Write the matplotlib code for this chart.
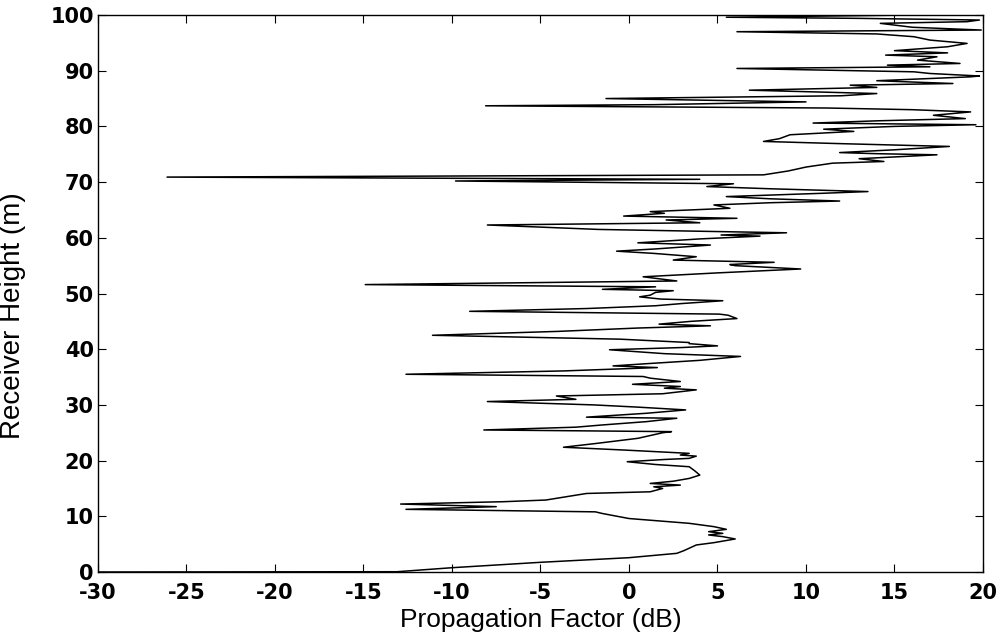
import matplotlib
matplotlib.use("Agg")
import matplotlib.pyplot as plt

# Receiver height (m) and propagation factor (dB), bottom to top
height_m = [
    0.0, 0.05, 0.77, 1.74, 2.57, 3.35, 3.83, 4.85, 5.27, 5.93,
    6.35, 6.65, 6.94, 7.24, 7.66, 8.14, 8.74, 9.34, 9.6, 10.5,
    10.8, 11.25, 11.73, 12.2, 12.62, 12.92, 14.1, 14.4, 15.0, 15.3,
    15.6, 15.9, 16.3, 16.8, 17.4, 18.2, 18.9, 19.3, 19.8, 20.2,
    20.4, 20.8, 21.0, 21.3, 21.9, 22.4, 23.1, 24.0, 25.0, 25.2,
    25.5, 26.0, 26.4, 27.0, 27.6, 27.8, 28.5, 29.1, 29.6, 30.0,
    30.6, 31.0, 31.6, 32.0, 32.7, 33.0, 33.3, 33.7, 34.2, 34.8,
    35.1, 35.5, 36.1, 36.7, 37.0, 37.4, 38.0, 38.7, 39.2, 39.9,
    40.3, 40.6, 41.0, 41.2, 41.8, 42.5, 43.2, 43.8, 44.2, 44.5,
    45.0, 45.5, 46.1, 46.3, 46.8, 47.3, 47.8, 48.2, 48.7, 49.0,
    49.4, 49.7, 50.2, 50.5, 50.75, 51.2, 51.6, 52.25, 53.0, 53.7,
    54.4, 55.0, 55.2, 55.6, 56.0, 56.6, 57.2, 57.6, 58.0, 58.7,
    59.1, 59.8, 60.3, 60.5, 60.9, 61.5, 62.3, 62.7, 63.2, 63.5,
    63.9, 64.4, 64.7, 65.0, 65.3, 65.9, 66.3, 66.6, 67.0, 67.4,
    68.0, 68.3, 68.8, 69.2, 69.7, 70.2, 70.5, 70.9, 71.3, 72.0,
    72.7, 73.4, 73.7, 74.2, 74.9, 75.1, 75.3, 75.8, 76.4, 76.9,
    77.3, 77.8, 78.5, 79.1, 79.5, 80.0, 80.3, 80.6, 81.0, 81.4,
    82.0, 82.6, 83.0, 83.3, 83.7, 83.9, 84.4, 85.0, 85.5, 85.9,
    86.5, 87.0, 87.4, 87.7, 88.2, 88.9, 89.05, 89.5, 89.8, 90.4,
    90.7, 91.0, 91.3, 91.9, 92.5, 92.8, 93.2, 93.6, 94.3, 94.9,
    95.5, 96.1, 96.6, 97.0, 97.3, 97.8, 98.5, 98.8, 99.1, 99.4,
    99.6, 100.0, 100.3,
]
factor_db = [
    -30.0, -13.1, -10.0, -5.0, 0.0, 2.7, 3.1, 3.8, 4.8, 6.0,
    5.3, 4.5, 5.3, 4.5, 5.5, 4.8, 3.4, 1.0, 0.0, -1.5,
    -1.9, -12.6, -7.5, -12.9, -7.1, -4.7, -2.4, 1.2, 1.9, 1.4,
    2.9, 1.2, 2.5, 3.4, 4.0, 3.7, 3.4, 1.5, -0.1, 2.0,
    3.4, 3.8, 2.9, 3.4, -0.3, -3.7, -1.8, 0.5, 1.9, 2.4,
    -8.2, -3.0, -1.5, 1.0, 2.7, -2.4, 1.0, 3.2, 0.5, -2.0,
    -8.0, -3.0, -4.1, 1.9, 3.8, 2.0, 2.9, 0.2, 2.9, 1.2,
    0.8, -12.6, -3.7, 1.6, -0.9, 1.0, 4.0, 6.3, 2.0, -1.1,
    3.0, 5.0, 3.4, 3.4, -0.5, -11.1, -4.0, 0.5, 4.6, 1.7,
    3.5, 6.1, 5.6, 5.1, -9.0, -2.4, 1.5, 3.0, 5.3, 1.8,
    0.6, 1.2, 1.5, 2.5, -1.5, 1.5, -14.9, 2.7, 0.8, 5.0,
    9.7, 6.0, 5.7, 8.2, 2.5, 3.8, 1.4, -0.7, 1.5, 4.6,
    0.5, 4.0, 7.4, 5.2, 8.9, -1.7, -8.0, 4.0, 2.1, 6.1,
    -0.3, 2.0, 1.2, 3.5, 5.7, 4.8, 8.0, 11.9, 8.0, 5.5,
    11.0, 13.5, 8.0, 4.4, 5.9, -9.8, 4.0, -26.1, 7.6, 9.0,
    10.0, 11.5, 14.4, 13.0, 17.4, 14.0, 11.9, 15.0, 18.1, 12.0,
    7.6, 8.5, 9.1, 12.7, 11.0, 15.0, 19.6, 10.4, 14.0, 19.0,
    17.2, 19.3, 16.0, 11.2, -8.1, 1.4, 10.0, -1.3, 12.0, 14.0,
    6.8, 14.0, 12.5, 18.3, 14.0, 19.3, 19.8, 17.0, 16.1, 6.1,
    17.0, 14.6, 18.7, 16.3, 17.4, 14.5, 18.0, 15.0, 18.0, 19.1,
    17.0, 16.1, 14.0, 6.1, 19.9, 16.0, 14.2, 19.1, 19.8, 12.9,
    5.5, 16.0, 18.0,
]

x_ticks = [-30, -25, -20, -15, -10, -5, 0, 5, 10, 15, 20]
y_ticks = [0, 10, 20, 30, 40, 50, 60, 70, 80, 90, 100]
x_label = "Propagation Factor (dB)"
y_label = "Receiver Height (m)"

plt.rcParams['font.family'] = ['Liberation Sans', 'DejaVu Sans']
plt.rcParams['axes.unicode_minus'] = False

fig = plt.figure(figsize=(10.03, 6.37), dpi=100)
ax = fig.add_axes([98 / 1003, 65 / 637, 885 / 1003, 557 / 637])
ax.plot(factor_db, height_m, color='black', linewidth=1.1)

ax.set_xlim(-30, 20)
ax.set_ylim(0, 100)
ax.set_xticks(x_ticks)
ax.set_yticks(y_ticks)
ax.tick_params(direction='in', top=True, right=True, length=6, width=0.8)
ax.tick_params(axis='x', pad=8)
ax.tick_params(axis='y', pad=3)
for lab in ax.get_xticklabels() + ax.get_yticklabels():
    lab.set_family(['DejaVu Sans'])
    lab.set_fontweight('bold')
    lab.set_fontsize(15)
for s in ax.spines.values():
    s.set_linewidth(1.0)
ax.set_xlabel(x_label, fontsize=19)
ax.set_ylabel(y_label, fontsize=20)
ax.xaxis.set_label_coords(0.5, -0.064)
ax.yaxis.set_label_coords(-0.081, 0.46)

fig.savefig("out.png", dpi=100)
